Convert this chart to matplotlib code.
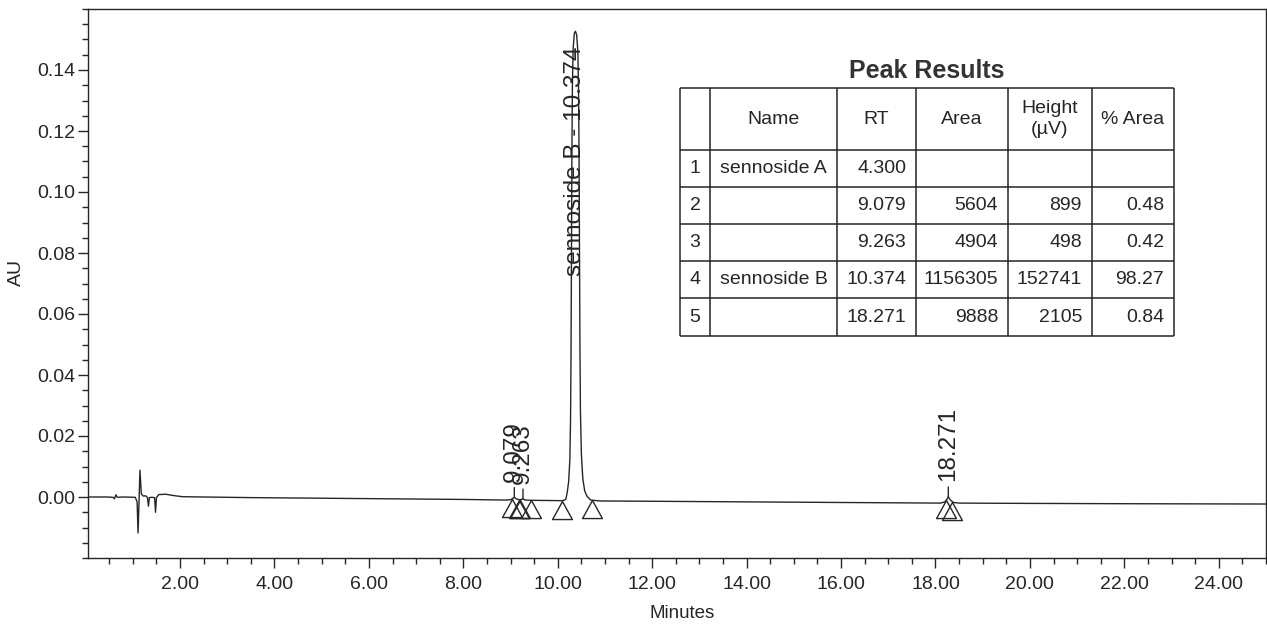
import numpy as np
import matplotlib
matplotlib.use("Agg")
import matplotlib.pyplot as plt
from matplotlib.ticker import FixedLocator, MultipleLocator, FormatStrFormatter
from matplotlib.path import Path

plt.rcParams['font.family'] = ['Liberation Sans', 'DejaVu Sans']

# ---------------- data ----------------
trace_time = [0.05, 0.45, 0.58, 0.61, 0.64, 0.67, 0.80, 1.05, 1.09, 1.11, 1.13, 1.15,
              1.18, 1.22, 1.27, 1.31, 1.33, 1.35, 1.40, 1.46, 1.48, 1.50, 1.55, 1.70,
              1.85, 2.05, 2.50, 3.50, 5.00, 6.50, 8.00, 8.90, 9.00, 9.05, 9.079, 9.12,
              9.18, 9.23, 9.263, 9.31, 9.50, 10.10, 10.17, 10.20, 10.23, 10.255, 10.27,
              10.28, 10.29, 10.30, 10.31, 10.325, 10.35, 10.374, 10.40, 10.425, 10.44,
              10.45, 10.46, 10.47, 10.48, 10.50, 10.53, 10.57, 10.62, 10.70, 10.90,
              12.00, 14.00, 16.00, 18.10, 18.20, 18.24, 18.271, 18.31, 18.38, 18.50,
              20.00, 22.00, 25.00]
trace_au = [0.0000, 0.0000, -0.0001, -0.0006, 0.0007, -0.0001, 0.0000, -0.0001, -0.0015,
            -0.0118, -0.0020, 0.0088, 0.0010, 0.0003, 0.0004, -0.0002, -0.0030, -0.0002,
            -0.0001, -0.0002, -0.0050, -0.0002, 0.0008, 0.0009, 0.0005, 0.0001, 0.0000,
            -0.0002, -0.0004, -0.0006, -0.0008, -0.0010, -0.0009, -0.0004, -0.0001,
            -0.0006, -0.0009, -0.0008, -0.0006, -0.0010, -0.0011, -0.0012, -0.0008,
            0.0015, 0.0050, 0.0120, 0.0250, 0.0450, 0.0800, 0.1150, 0.1350, 0.1470,
            0.1520, 0.1527, 0.1515, 0.1460, 0.1330, 0.1130, 0.0800, 0.0480, 0.0280,
            0.0140, 0.0060, 0.0020, 0.0002, -0.0010, -0.0013, -0.0014, -0.0016, -0.0018,
            -0.0020, -0.0016, -0.0008, 0.0001, -0.0009, -0.0018, -0.0020, -0.0021,
            -0.0022, -0.0023]

small_peak_rt = [9.079, 9.263, 18.271]
small_peak_labels = ['9.079', '9.263', '18.271']
main_peak_rt = 10.374
main_peak_label = 'sennoside B - 10.374'

marker_times = [9.03, 9.17, 9.20, 9.43, 10.08, 10.73, 18.23, 18.36]

x_major = [2, 4, 6, 8, 10, 12, 14, 16, 18, 20, 22, 24]
y_major = [0.00, 0.02, 0.04, 0.06, 0.08, 0.10, 0.12, 0.14]

table_title = 'Peak Results'
table_headers = ['', 'Name', 'RT', 'Area', 'Height\n(µV)', '% Area']
table_index = ['1', '2', '3', '4', '5']
table_name = ['sennoside A', '', '', 'sennoside B', '']
table_rt = ['4.300', '9.079', '9.263', '10.374', '18.271']
table_area = ['', '5604', '4904', '1156305', '9888']
table_height = ['', '899', '498', '152741', '2105']
table_pct = ['', '0.48', '0.42', '98.27', '0.84']

# ---------------- figure ----------------
W, H = 1267, 624
fig = plt.figure(figsize=(W / 100, H / 100), dpi=100)
ink = '#262626'

ax = fig.add_axes([88 / W, 1 - 558 / H, (1266 - 88) / W, (558 - 9) / H])
ax.plot(trace_time, trace_au, color=ink, lw=1.0)
ax.set_xlim(0.05, 25)
ax.set_ylim(-0.02, 0.16)

ax.xaxis.set_major_locator(FixedLocator(x_major))
ax.xaxis.set_minor_locator(MultipleLocator(0.5))
ax.yaxis.set_major_locator(FixedLocator(y_major))
ax.yaxis.set_minor_locator(MultipleLocator(0.005))
ax.xaxis.set_major_formatter(FormatStrFormatter('%.2f'))
ax.yaxis.set_major_formatter(FormatStrFormatter('%.2f'))
ax.tick_params(which='major', direction='out', length=7.5, width=1.0, colors=ink,
               labelsize=14)
ax.tick_params(axis='x', which='major', pad=5.5)
ax.tick_params(axis='y', which='major', pad=1.5)
ax.tick_params(which='minor', direction='out', length=4.5, width=1.0, colors=ink)
for s in ax.spines.values():
    s.set_color(ink)
    s.set_linewidth(1.0)

ax.set_ylabel('AU', fontsize=14, color=ink)
ax.yaxis.set_label_coords(-0.0535, 0.52)
ax.set_xlabel('Minutes', fontsize=13.5, color=ink)
ax.xaxis.set_label_coords(0.504, -0.085)

# integration markers (open triangles with apex on the baseline)
tri = Path([(0, 0), (-0.55, -1), (0.55, -1), (0, 0)],
           [Path.MOVETO, Path.LINETO, Path.LINETO, Path.CLOSEPOLY])
ax.plot(marker_times, np.interp(marker_times, trace_time, trace_au), ls='none',
        marker=tri, markersize=26, mfc='none', mec=ink, mew=1.0)

# peak labels
for rt, lab in zip(small_peak_rt, small_peak_labels):
    apex = np.interp(rt, trace_time, trace_au)
    ax.annotate(lab, xy=(rt, apex), xytext=(0, 11), textcoords='offset points',
                rotation=90, ha='center', va='bottom', fontsize=17.5, color=ink,
                arrowprops=dict(arrowstyle='-', color=ink, lw=1.0,
                                shrinkA=2, shrinkB=0))
ax.text(main_peak_rt, 0.110, main_peak_label, rotation=90, ha='center',
        va='center', fontsize=17.5, color=ink)

# ---------------- peak results table ----------------
tw, th = 494, 248
tax = fig.add_axes([680 / W, 1 - 336 / H, tw / W, th / H])
tax.set_xlim(0, tw)
tax.set_ylim(th, 0)
tax.axis('off')
col_edges = [0, 30, 157, 236, 328, 412, 494]
row_edges = [0, 62, 99, 136, 173, 210, 248]
tax.vlines(col_edges, 0, th, color=ink, lw=1.1, clip_on=False)
tax.hlines(row_edges, 0, tw, color=ink, lw=1.1, clip_on=False)
tax.text(tw / 2, -17, table_title, ha='center', va='center', fontsize=18,
         fontweight='bold', color='#333333')

fs = 14
hy = (row_edges[0] + row_edges[1]) / 2
for j, h in enumerate(table_headers):
    cx = (col_edges[j] + col_edges[j + 1]) / 2
    tax.text(cx, hy, h, ha='center', va='center', fontsize=fs, color=ink,
             linespacing=1.25)

pad = 10
right_cols = [table_rt, table_area, table_height, table_pct]
for i in range(len(table_index)):
    cy = (row_edges[i + 1] + row_edges[i + 2]) / 2
    tax.text((col_edges[0] + col_edges[1]) / 2, cy, table_index[i], ha='center',
             va='center', fontsize=fs, color=ink)
    tax.text(col_edges[1] + pad, cy, table_name[i], ha='left', va='center',
             fontsize=fs, color=ink)
    for k, col in enumerate(right_cols):
        tax.text(col_edges[k + 3] - pad, cy, col[i], ha='right', va='center',
                 fontsize=fs, color=ink)

fig.savefig('out.png', dpi=100, facecolor='white')
